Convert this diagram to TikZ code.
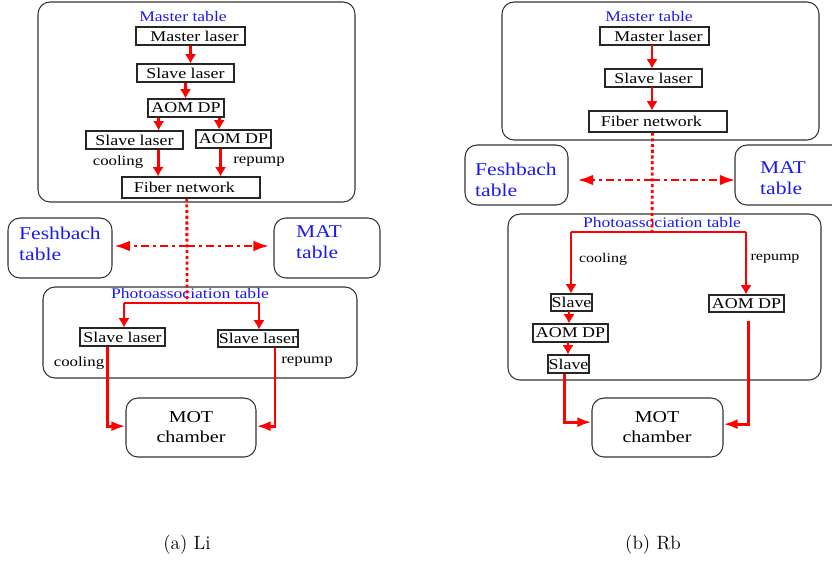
\documentclass[tikz,border=0pt]{standalone}
\usepackage{fontspec}
\usetikzlibrary{calc,arrows.meta}
\newfontfamily\tim{Liberation Serif}[FakeStretch=1.2]
\definecolor{tblue}{RGB}{25,25,245}
\definecolor{tred}{RGB}{255,0,0}
\newcommand\mybox[7][]{%
  \pgfmathsetmacro\mybw{(#5-#3)*0.75}%
  \pgfmathsetmacro\mybh{(#6-#4)*0.75}%
  \node[#1, minimum width=\mybw pt, minimum height=\mybh pt] (#2) at ({(#3+#5)/2},{(#4+#6)/2}) {#7};}
\tikzset{
  tbl/.style={draw=black!80, line width=0.8pt, rounded corners=9pt, inner sep=0pt},
  lbox/.style={draw=black!85, line width=0.8pt, inner sep=0pt, font=\tim\fontsize{11.2}{12}\selectfont},
  ttl/.style={text=tblue, inner sep=0pt, font=\tim\fontsize{11}{12}\selectfont},
  big/.style={text=tblue, inner sep=0pt, align=left, font=\tim\fontsize{13.5}{16}\selectfont},
  lab/.style={inner sep=0pt, font=\tim\fontsize{10.5}{12}\selectfont},
  mot/.style={inner sep=0pt, align=center, font=\tim\fontsize{12.5}{15.5}\selectfont},
  arr/.style={tred, line width=2.2pt, -{Latex[length=7pt,width=8.5pt]}},
  harr/.style={tred, line width=2.2pt, -{Latex[length=10.5pt,width=7.5pt]}},
  hline/.style={tred, line width=1.6pt},
  dotl/.style={tred, line width=2.1pt, dash pattern=on 2.3pt off 2pt},
  ddl/.style={tred, line width=2.2pt, dash pattern=on 6pt off 3pt on 2.2pt off 3pt, -{Latex[length=12pt,width=8pt]}},
  captxt/.style={inner sep=0pt, font=\fontsize{14.4}{17}\selectfont}
}
\begin{document}
\begin{tikzpicture}[x=0.75pt,y=-0.75pt]
\useasboundingbox (0,0) rectangle (832,562);
\clip (0,0) rectangle (832,562);
% ================= (a) Li =================
\mybox[tbl]{Lmt}{38}{2}{355}{202}{}
\node[ttl] (Lmtt) at (183,16) {Master table};
\mybox[lbox]{LmL}{136}{27}{245}{45}{\hspace*{6pt}Master laser}
\mybox[lbox]{LsL1}{137}{64}{234}{82}{Slave laser}
\mybox[lbox]{LaomA}{148}{99}{224}{117}{AOM DP}
\mybox[lbox]{LsL2}{86}{131}{183}{149}{Slave laser}
\mybox[lbox]{LaomB}{196}{130}{271}{148}{AOM DP}
\mybox[lbox]{Lfib}{122}{177}{260}{198}{Fiber network\hspace*{10pt}}
\node[lab] (Lcool) at (118,162) {cooling};
\node[lab] (Lrep) at (259,162) {repump};
\draw[arr] (LmL.south) -- (LmL.south |- LsL1.north);
\draw[arr] (LsL1.south) -- (LsL1.south |- LaomA.north);
\draw[arr] ($(LaomA.south west)!0.145!(LaomA.south east)$) coordinate (La1) -- (La1 |- LsL2.north);
\draw[arr] ($(LaomA.south west)!0.93!(LaomA.south east)$) coordinate (La2) -- (La2 |- LaomB.north);
\draw[arr] ($(LsL2.south west)!0.74!(LsL2.south east)$) coordinate (Ls2o) -- (Ls2o |- Lfib.north);
\draw[arr] ($(LaomB.south west)!0.33!(LaomB.south east)$) coordinate (Lab2o) -- (Lab2o |- Lfib.north);

\mybox[tbl]{LFesh}{8}{218}{112}{278}{}
\node[big] (LFesht) at (60,244) {Feshbach\\table};
\mybox[tbl]{LMAT}{274}{218}{380}{278}{}
\node[big] (LMATt) at (319,242) {MAT\\table};

\mybox[tbl]{Lpa}{43}{287}{357}{378}{}
\node[ttl] (Lpat) at (190,293) {Photoassociation table};
\coordinate (Ljn) at (187,303);
\draw[dotl] ($(Lfib.south west)!0.47!(Lfib.south east)$) -- (Ljn);
\draw[ddl] (187,246) -- ([xshift=1pt]LFesh.east |- 0,246);
\draw[ddl] (187,246) -- ([xshift=-3pt]LMAT.west |- 0,246);

\mybox[lbox]{LPs1}{80}{328}{165}{346}{Slave laser}
\mybox[lbox]{LPs2}{218}{330}{298}{347}{Slave laser}
\draw[hline, line width=2.2pt] (Ljn) -- (124,303) coordinate (Lhl) -- (259,303) coordinate (Lhr);
\draw[arr] (Lhl) -- (Lhl |- LPs1.north);
\draw[arr] (Lhr) -- (Lhr |- LPs2.north);
\node[lab] (LPcool) at (79,363) {cooling};
\node[lab] (LPrep) at (307,362) {repump};

\mybox[tbl]{LMOT}{126}{398}{256}{457}{}
\node[mot] (LMOTt) at (191,427) {MOT\\chamber};
\draw[harr] ($(LPs1.south west)!0.33!(LPs1.south east)$) |- ([yshift=1pt]LMOT.west);
\draw[harr] ($(LPs2.south west)!0.71!(LPs2.south east)$) |- ([yshift=1pt]LMOT.east);

% ================= (b) Rb =================
\mybox[tbl]{Rmt}{502}{2}{819}{140}{}
\node[ttl] (Rmtt) at (649,16) {Master table};
\mybox[lbox]{RmL}{600}{27}{709}{45}{\hspace*{6pt}Master laser}
\mybox[lbox]{RsL}{605}{69}{702}{87}{Slave laser}
\mybox[lbox]{Rfib}{589}{111}{727}{132}{Fiber network\hspace*{10pt}}
\draw[arr] (652,45) coordinate (Ra1) -- (Ra1 |- RsL.north);
\draw[arr] (652,87) coordinate (Ra2) -- (Ra2 |- Rfib.north);

\mybox[tbl]{RFesh}{465}{145}{568}{205}{}
\node[big] (RFesht) at (516,180) {Feshbach\\table};
\mybox[tbl]{RMAT}{735}{145}{850}{205}{}
\node[big] (RMATt) at (783,178) {MAT\\table};

\mybox[tbl]{Rpa}{508}{214}{821}{380}{}
\node[ttl] (Rpat) at (662,222) {Photoassociation table};
\coordinate (Rjn) at (652,231);
\draw[dotl] ($(Rfib.south west)!0.46!(Rfib.south east)$) -- (Rjn);
\draw[ddl] (652,180) -- ([xshift=6.5pt]RFesh.east |- 0,180);
\draw[ddl] (652,180) -- ([xshift=1pt]RMAT.west |- 0,180);

\mybox[lbox]{RS1}{551}{294}{592}{311}{Slave}
\mybox[lbox]{RAOM2}{709}{295}{784}{312}{AOM DP}
\mybox[lbox]{RAOM1}{533}{324}{608}{342}{AOM DP}
\mybox[lbox]{RS2}{548}{355}{589}{373}{Slave}
\draw[hline] (571,232) coordinate (Rhl) -- (746,232) coordinate (Rhr);
\draw[arr] (Rhl) -- (Rhl |- RS1.north);
\draw[arr] (Rhr) -- (Rhr |- RAOM2.north);
\node[lab, font=\tim\fontsize{10}{12}\selectfont] (Rcool) at (603,259) {cooling};
\node[lab, font=\tim\fontsize{10}{12}\selectfont] (Rrep) at (775,259) {repump};
\draw[arr] (569,311) coordinate (Rb1) -- (Rb1 |- RAOM1.north);
\draw[arr] (568,342) coordinate (Rb2) -- (Rb2 |- RS2.north);

\mybox[tbl]{RMOT}{592}{398}{723}{457}{}
\node[mot] (RMOTt) at (657,427) {MOT\\chamber};
\draw[harr] ($(RS2.south west)!0.41!(RS2.south east)$) |- ([yshift=4pt]RMOT.west);
\draw[harr] ([yshift=-6pt]$(RAOM2.south west)!0.53!(RAOM2.south east)$) |- ([yshift=2.5pt]RMOT.east);

% captions
\node[captxt] (capa) at (187,545) {(a) Li};
\node[captxt] (capb) at (653,545) {(b) Rb};
\end{tikzpicture}
\end{document}
